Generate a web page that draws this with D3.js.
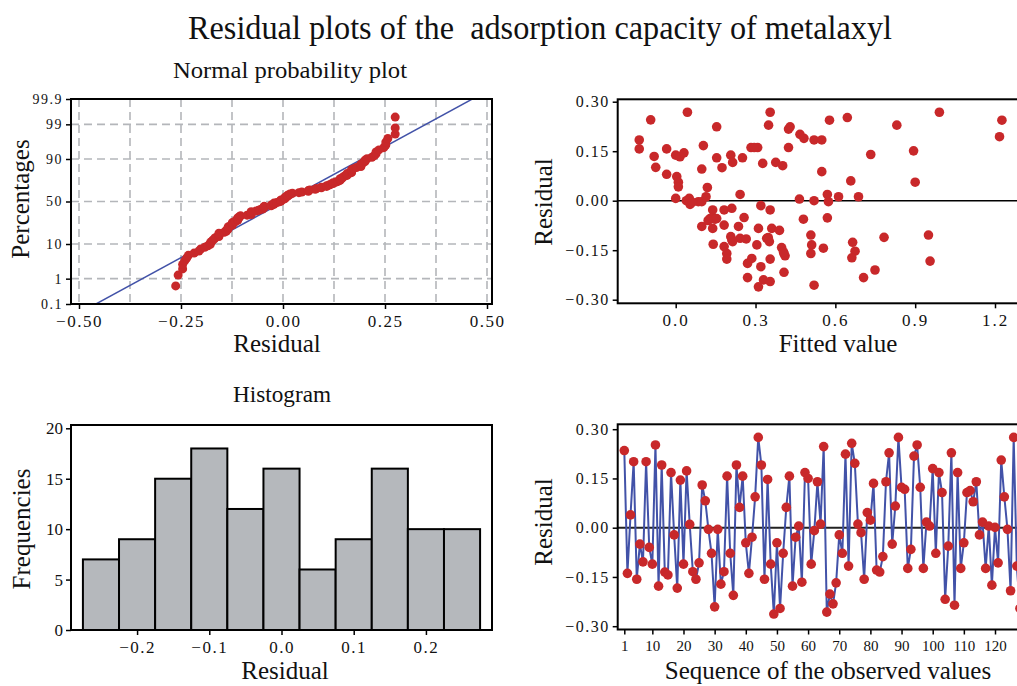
<!DOCTYPE html>
<html>
<head>
<meta charset="utf-8">
<script src="https://cdn.jsdelivr.net/npm/d3@7"></script>
<style>
  body { margin: 0; background: #fff; }
  text { font-family: "Liberation Serif", "Times New Roman", serif; fill: #111; }
</style>
</head>
<body>
<svg id="chart"></svg>
<script>
const residualSeq = [
  0.235, -0.139, 0.039, 0.201, -0.157, -0.050, -0.104, 0.201, -0.060, -0.111,
  0.252, -0.178, 0.191, -0.135, -0.144, 0.168, -0.022, -0.184, 0.145, -0.111,
  0.173, 0.010, -0.134, -0.157, -0.107, 0.130, 0.082, -0.005, -0.078, -0.241,
  -0.005, -0.172, -0.134, 0.157, -0.078, -0.206, 0.191, 0.062, 0.157, -0.046,
  -0.139, -0.029, 0.094, 0.275, 0.191, -0.157, 0.147, -0.111, -0.263, -0.046,
  -0.246, -0.078, 0.062, 0.157, -0.178, -0.029, 0.005, -0.166, 0.168, 0.150,
  -0.111, -0.009, 0.140, 0.011, 0.247, -0.257, -0.202, -0.232, -0.168, -0.022,
  -0.078, 0.224, -0.117, 0.257, 0.196, 0.011, -0.015, -0.157, 0.046, 0.023,
  0.135, -0.129, -0.135, -0.088, 0.140, 0.228, -0.050, 0.066, 0.275, 0.123,
  0.117, -0.124, -0.066, 0.218, 0.252, 0.123, -0.124, 0.017, 0.005, 0.180,
  -0.078, 0.168, 0.107, -0.218, -0.056, 0.228, -0.236, 0.168, -0.124, -0.046,
  0.107, 0.113, 0.079, 0.140, -0.022, 0.017, -0.124, 0.005, -0.175, 0.001,
  -0.107, 0.206, 0.094, -0.005, -0.192, 0.275, -0.117, -0.246
];

// residual vs fitted value pairs
const fittedX = [
  -0.137, -0.137, -0.094, -0.081, -0.075, -0.034, -0.034, 0.000, 0.016, 0.031,
  0.044, 0.004, 0.010, 0.010, 0.000, 0.051, 0.054, 0.085, 0.098, 0.098,
  0.104, 0.119, 0.114, 0.098, 0.139, 0.129, 0.144, 0.154, 0.139, 0.141,
  0.154, 0.154, 0.174, 0.182, 0.211, 0.182, 0.182, 0.192, 0.192, 0.207,
  0.214, 0.242, 0.251, 0.207, 0.211, 0.236, 0.242, 0.257, 0.265, 0.270,
  0.286, 0.270, 0.283, 0.308, 0.305, 0.311, 0.320, 0.320, 0.311, 0.330,
  0.327, 0.349, 0.355, 0.355, 0.342, 0.352, 0.355, 0.355, 0.361, 0.376,
  0.390, 0.402, 0.398, 0.407, 0.411, 0.407, 0.424, 0.430, 0.424, 0.465,
  0.467, 0.482, 0.480, 0.508, 0.511, 0.508, 0.520, 0.520, 0.520, 0.549,
  0.549, 0.555, 0.570, 0.574, 0.570, 0.578, 0.612, 0.645, 0.658, 0.665,
  0.674, 0.662, 0.687, 0.706, 0.733, 0.749, 0.783, 0.831, 0.894, 0.900,
  0.950, 0.956, 0.991, 1.217, 1.226, 0.295, 0.148, 0.348, 0.405, 0.214,
  0.040, 0.062, 0.122
];
const fittedY = [
  0.184, 0.157, 0.245, 0.134, 0.101, 0.157, 0.080, 0.138, 0.133, 0.145,
  0.268, 0.073, 0.056, 0.042, 0.007, 0.007, -0.011, -0.003, -0.003, 0.096,
  0.167, 0.040, 0.012, -0.078, -0.028, -0.054, -0.054, -0.054, -0.084, -0.132,
  0.224, 0.130, 0.100, -0.028, -0.023, -0.074, -0.139, -0.160, -0.177, 0.138,
  0.116, 0.019, 0.130, -0.109, -0.119, -0.078, -0.114, -0.051, -0.116, -0.190,
  -0.175, -0.233, 0.161, 0.161, -0.134, -0.084, -0.015, -0.200, -0.261, -0.240,
  0.113, 0.229, 0.268, -0.028, -0.114, -0.124, -0.177, -0.245, -0.084, 0.116,
  -0.090, 0.106, -0.142, -0.160, -0.167, -0.217, 0.217, 0.224, 0.161, 0.005,
  0.201, 0.189, -0.056, -0.104, -0.134, -0.160, 0.000, -0.256, 0.184, 0.184,
  0.088, -0.144, 0.019, -0.003, -0.052, 0.244, 0.012, 0.252, 0.060, -0.126,
  -0.153, -0.173, 0.012, -0.233, 0.140, -0.210, -0.111, 0.229, 0.151, 0.056,
  -0.104, -0.183, 0.268, 0.194, 0.244, 0.161, -0.056, -0.112, -0.155, -0.124,
  0.000, -0.005, -0.060
];

// histogram
const histEdges = [-0.275, -0.225, -0.175, -0.125, -0.075, -0.025, 0.025, 0.075, 0.125, 0.175, 0.225, 0.275];
const histCounts = [7, 9, 15, 18, 12, 16, 6, 9, 16, 10, 10];

// ticks
const probTicks = [0.1, 1, 10, 50, 90, 99, 99.9];
const probGrid = [1, 10, 50, 90, 99];
const npXTicks = [-0.5, -0.25, 0, 0.25, 0.5];
const npXGrid = [-0.5, -0.375, -0.25, -0.125, 0, 0.125, 0.25, 0.375, 0.5];
const residTicks = [-0.3, -0.15, 0, 0.15, 0.3];
const fittedTicks = [0, 0.3, 0.6, 0.9, 1.2];
const histXTicks = [-0.2, -0.1, 0, 0.1, 0.2];
const histYTicks = [0, 5, 10, 15, 20];
const seqTicks = [1, 10, 20, 30, 40, 50, 60, 70, 80, 90, 100, 110, 120];

const width = 1017, height = 686;
const red = "#c8282a", blue = "#4252a8";
let svg = d3.select("#chart").attr("width", width).attr("height", height);

// inverse normal CDF (Acklam)
function probit(p) {
    const a = [-39.69683028665376, 220.9460984245205, -275.9285104469687, 138.3577518672690, -30.66479806614716, 2.506628277459239];
    const b = [-54.47609879822406, 161.5858368580409, -155.6989798598866, 66.80131188771972, -13.28068155833397];
    const c = [-0.007784894002430293, -0.3223964580411365, -2.400758277161838, -2.549732539343734, 4.374664141464968, 2.938163982698783];
    const d = [0.007784695709041462, 0.3224671290700398, 2.445134137142996, 3.754408661907416];
    const plow = 0.02425;
    let q, r;
    if (p < plow) {
        q = Math.sqrt(-2 * Math.log(p));
        return (((((c[0]*q+c[1])*q+c[2])*q+c[3])*q+c[4])*q+c[5]) / ((((d[0]*q+d[1])*q+d[2])*q+d[3])*q+1);
    }
    if (p <= 1 - plow) {
        q = p - 0.5; r = q*q;
        return (((((a[0]*r+a[1])*r+a[2])*r+a[3])*r+a[4])*r+a[5])*q / (((((b[0]*r+b[1])*r+b[2])*r+b[3])*r+b[4])*r+1);
    }
    q = Math.sqrt(-2 * Math.log(1 - p));
    return -(((((c[0]*q+c[1])*q+c[2])*q+c[3])*q+c[4])*q+c[5]) / ((((d[0]*q+d[1])*q+d[2])*q+d[3])*q+1);
}

function styleAxis(g, size, spacing) {
    g.select(".domain").remove();
    g.selectAll(".tick line").attr("stroke", "#000").attr("stroke-width", 1.5);
    g.selectAll(".tick text")
        .attr("fill", "#111")
        .style("font-family", "'Liberation Serif', serif")
        .style("font-size", size + "px")
        .style("letter-spacing", spacing + "px");
}

function box(x0, y0, x1, y1) {
    svg.append("rect")
        .attr("x", x0).attr("y", y0)
        .attr("width", x1 - x0).attr("height", y1 - y0)
        .attr("fill", "none").attr("stroke", "#000").attr("stroke-width", 2);
}

function label(text, x, y, size, rotate, len) {
    let t = svg.append("text")
        .attr("transform", "translate(" + x + "," + y + ")" + (rotate ? " rotate(-90)" : ""))
        .attr("text-anchor", "middle")
        .style("font-size", size + "px")
        .text(text);
    if (len) t.attr("textLength", len).attr("lengthAdjust", "spacingAndGlyphs");
}

const fmt2 = d3.format(".2f"), fmt1 = d3.format(".1f");

function drawNormalPlot() {
    const L = 71, R = 492, T = 99, B = 304;
    const x = d3.scaleLinear().domain([-0.5, 0.5]).range([79, 487]);
    const y = d3.scaleLinear().domain([probit(0.001), probit(0.999)]).range([B, T]);

    svg.append("defs").append("clipPath").attr("id", "npclip")
        .append("rect").attr("x", L).attr("y", T).attr("width", R - L).attr("height", B - T);

    // dashed grid
    svg.append("g").selectAll("line.v").data(npXGrid).enter().append("line")
        .attr("x1", d => x(d)).attr("x2", d => x(d)).attr("y1", T).attr("y2", B)
        .attr("stroke", "#b4b6ba").attr("stroke-width", 1.6).attr("stroke-dasharray", "8,5");
    svg.append("g").selectAll("line.h").data(probGrid).enter().append("line")
        .attr("x1", L).attr("x2", R).attr("y1", d => y(probit(d / 100))).attr("y2", d => y(probit(d / 100)))
        .attr("stroke", "#b4b6ba").attr("stroke-width", 1.6).attr("stroke-dasharray", "8,5");

    // fitted normal line
    const mu = d3.mean(residualSeq), sd = d3.deviation(residualSeq);
    const zs = [probit(0.0005), probit(0.9995)];
    svg.append("line")
        .attr("clip-path", "url(#npclip)")
        .attr("x1", x(mu + sd * zs[0])).attr("y1", y(zs[0]))
        .attr("x2", x(mu + sd * zs[1])).attr("y2", y(zs[1]))
        .attr("stroke", blue).attr("stroke-width", 1.5);

    // points: sorted residuals vs median-rank percentages
    const sorted = residualSeq.slice().sort(d3.ascending);
    const n = sorted.length;
    svg.append("g").selectAll("circle").data(sorted).enter().append("circle")
        .attr("cx", d => x(d))
        .attr("cy", (d, i) => y(probit((i + 1 - 0.3) / (n + 0.4))))
        .attr("r", 4.5).attr("fill", red);

    box(L, T, R, B);

    svg.append("g").attr("transform", "translate(" + L + ",0)")
        .call(d3.axisLeft(d3.scaleLinear().domain(y.domain()).range(y.range()))
            .tickValues(probTicks.map(p => probit(p / 100)))
            .tickFormat((d, i) => String(probTicks[i]))
            .tickSize(5).tickPadding(3))
        .call(g => styleAxis(g, 14, 1.5));
    svg.append("g").attr("transform", "translate(0," + B + ")")
        .call(d3.axisBottom(x).tickValues(npXTicks).tickFormat(fmt2).tickSize(5).tickPadding(6))
        .call(g => styleAxis(g, 17, 1.5));

    label("Normal probability plot", 290, 78, 24, false, 234);
    label("Residual", 277, 352, 25);
    label("Percentages", 29, 199, 25, true);
}

function drawFittedPlot() {
    const L = 617.7, R = 1030, T = 99.3, B = 303.3;
    const x = d3.scaleLinear().domain([0, 1.2]).range([675.7, 995]);
    const y = d3.scaleLinear().domain([-0.3, 0.3]).range([299.7, 101.7]);

    svg.append("line")
        .attr("x1", L).attr("x2", R).attr("y1", y(0)).attr("y2", y(0))
        .attr("stroke", "#000").attr("stroke-width", 1.5);
    svg.append("g").selectAll("circle").data(fittedX).enter().append("circle")
        .attr("cx", d => x(d)).attr("cy", (d, i) => y(fittedY[i]))
        .attr("r", 4.8).attr("fill", red);

    box(L, T, R, B);
    svg.append("g").attr("transform", "translate(" + L + ",0)")
        .call(d3.axisLeft(y).tickValues(residTicks).tickFormat(fmt2).tickSize(5).tickPadding(3))
        .call(g => styleAxis(g, 16, 1.5));
    svg.append("g").attr("transform", "translate(0," + B + ")")
        .call(d3.axisBottom(x).tickValues(fittedTicks).tickFormat(fmt1).tickSize(5).tickPadding(6))
        .call(g => styleAxis(g, 17, 2));

    label("Fitted value", 838, 352, 25);
    label("Residual", 552, 202, 25, true);
}

function drawHistogram() {
    const L = 71, R = 492, T = 425, B = 630;
    const x = d3.scaleLinear().domain([-0.2915, 0.2915]).range([L, R]);
    const y = d3.scaleLinear().domain([0, 20]).range([B, 428.3]);

    svg.append("g").selectAll("rect").data(histCounts).enter().append("rect")
        .attr("x", (d, i) => x(histEdges[i]))
        .attr("width", (d, i) => x(histEdges[i + 1]) - x(histEdges[i]))
        .attr("y", d => y(d))
        .attr("height", d => B - y(d))
        .attr("fill", "#b5b8bc").attr("stroke", "#000").attr("stroke-width", 2);

    box(L, T, R, B);
    svg.append("g").attr("transform", "translate(" + L + ",0)")
        .call(d3.axisLeft(y).tickValues(histYTicks).tickSize(5).tickPadding(3))
        .call(g => styleAxis(g, 17, 0));
    svg.append("g").attr("transform", "translate(0," + B + ")")
        .call(d3.axisBottom(x).tickValues(histXTicks).tickFormat(fmt1).tickSize(5).tickPadding(6))
        .call(g => styleAxis(g, 17, 1.5));

    label("Histogram", 282, 402, 23, false, 98);
    label("Residual", 285, 679, 25);
    label("Frequencies", 30, 529, 25, true);
}

function drawSequencePlot() {
    const L = 617.7, R = 1030, T = 424.3, B = 629.5;
    const x = d3.scaleLinear().domain([1, 120]).range([624.3, 995]);
    const y = d3.scaleLinear().domain([-0.3, 0.3]).range([626.2, 429.2]);

    svg.append("line")
        .attr("x1", L).attr("x2", R).attr("y1", y(0)).attr("y2", y(0))
        .attr("stroke", "#222").attr("stroke-width", 2);

    const line = d3.line().x((d, i) => x(i + 1)).y(d => y(d));
    svg.append("path").datum(residualSeq)
        .attr("d", line).attr("fill", "none")
        .attr("stroke", blue).attr("stroke-width", 2);
    svg.append("g").selectAll("circle").data(residualSeq).enter().append("circle")
        .attr("cx", (d, i) => x(i + 1)).attr("cy", d => y(d))
        .attr("r", 4.8).attr("fill", red);

    box(L, T, R, B);
    svg.append("g").attr("transform", "translate(" + L + ",0)")
        .call(d3.axisLeft(y).tickValues(residTicks).tickFormat(fmt2).tickSize(5).tickPadding(3))
        .call(g => styleAxis(g, 16, 1.5));
    svg.append("g").attr("transform", "translate(0," + B + ")")
        .call(d3.axisBottom(x).tickValues(seqTicks).tickSize(5).tickPadding(6))
        .call(g => styleAxis(g, 15, 0));

    label("Sequence of the observed values", 828, 679, 25);
    label("Residual", 552, 522, 25, true);
}

svg.append("text")
    .attr("x", 540).attr("y", 39)
    .attr("text-anchor", "middle")
    .attr("textLength", 704).attr("lengthAdjust", "spacingAndGlyphs")
    .style("font-size", "34px")
    .style("white-space", "pre")
    .text("Residual plots of the  adsorption capacity of metalaxyl");

drawNormalPlot();
drawFittedPlot();
drawHistogram();
drawSequencePlot();
</script>
</body>
</html>
